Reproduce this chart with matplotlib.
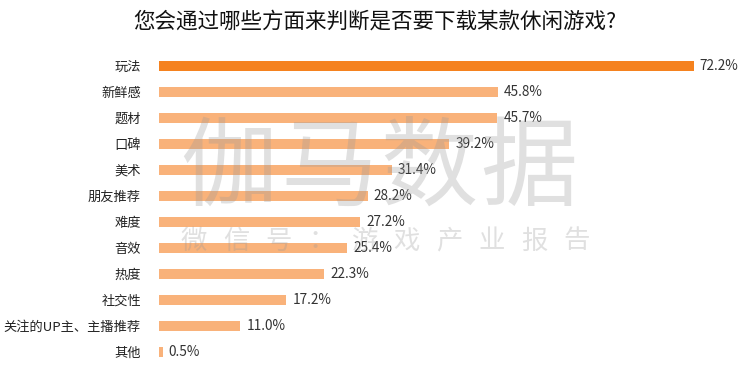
import matplotlib.pyplot as plt

plt.rcParams['font.family'] = ['Noto Sans CJK SC', 'DejaVu Sans']

categories = ['玩法', '新鲜感', '题材', '口碑', '美术', '朋友推荐', '难度', '音效',
              '热度', '社交性', '关注的UP主、主播推荐', '其他']
values = [72.2, 45.8, 45.7, 39.2, 31.4, 28.2, 27.2, 25.4, 22.3, 17.2, 11.0, 0.5]

fig = plt.figure(figsize=(7.5, 3.77), dpi=100)
ax = fig.add_axes([0.212, 0.032, 0.778, 0.827])

colors = ['#F5821F'] + ['#F9B27A'] * (len(values) - 1)
ypos = range(len(categories))
ax.barh(ypos, values, height=0.4, color=colors)
for y, v in zip(ypos, values):
    ax.text(v + 0.8, y, f'{v:.1f}%', va='center', ha='left', fontsize=9.8, color='#333333')

ax.set_yticks(list(ypos))
ax.set_yticklabels(categories, fontsize=9.5, color='#222222')
ax.tick_params(axis='y', length=0, pad=13)
ax.set_xticks([])
ax.set_xlim(0, 78.8)
ax.set_ylim(len(categories) - 0.5, -0.5)
for s in ax.spines.values():
    s.set_visible(False)

# watermark
mark_big = '伽马数据'
for i, ch in enumerate(mark_big):
    fig.text((229 + i * 100) / 750, 1 - 170 / 377, ch, fontsize=70, color='#999999',
             alpha=0.3, ha='center', va='center')
mark_small = '微信号：游戏产业报告'
for i, ch in enumerate(mark_small):
    fig.text((194 + i * 42.5) / 750, 1 - 241 / 377, ch, fontsize=19, color='#999999',
             alpha=0.3, ha='center', va='center')

fig.text(0.5, 1 - 22 / 377, '您会通过哪些方面来判断是否要下载某款休闲游戏?', fontsize=15.5,
         ha='center', va='center', color='#111111', fontweight='medium')

fig.savefig('out.png', dpi=100)
